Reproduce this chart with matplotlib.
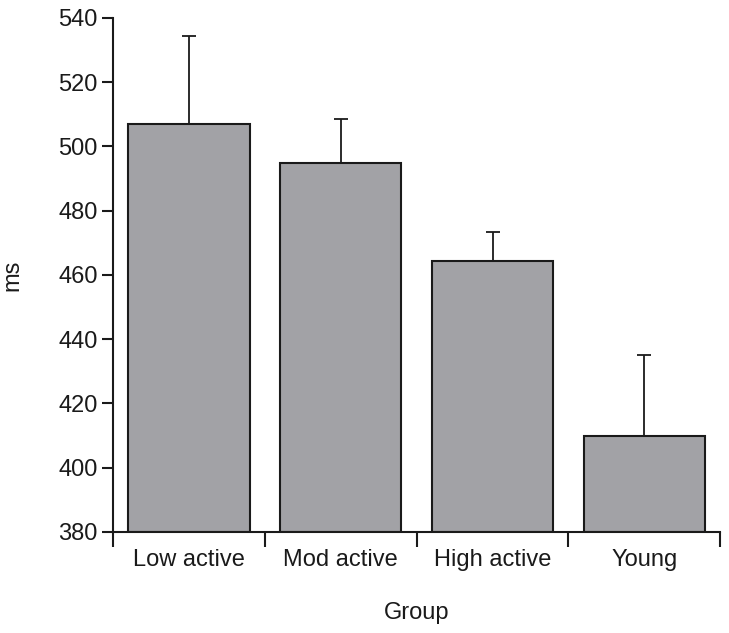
import numpy as np
import matplotlib
matplotlib.use("Agg")
import matplotlib.pyplot as plt

groups = ["Low active", "Mod active", "High active", "Young"]
means = [507, 495, 464.5, 410]
errors = [27.5, 13.5, 9, 25]

plt.rcParams['font.family'] = ['Liberation Sans', 'DejaVu Sans']

fig = plt.figure(figsize=(7.29, 6.33), dpi=100)
ax = fig.add_axes([0.155, 0.1596, 0.833, 0.812])

x = np.arange(len(groups))
ax.bar(x, np.array(means) - 380, bottom=380, width=0.8, color='#a2a2a6',
       edgecolor='#1a1a1a', linewidth=1.5, zorder=2)
ax.errorbar(x, means, yerr=[np.zeros(len(errors)), errors], fmt='none',
            ecolor='#1a1a1a', elinewidth=1.3, capsize=5, capthick=1.3, zorder=1)

ax.set_xlim(-0.5, 3.5)
ax.set_ylim(380, 540)
ax.set_yticks(np.arange(380, 541, 20))

# ticks sit between the groups, labels centred under bars
ax.set_xticks(np.arange(-0.5, 4, 1))
ax.set_xticklabels([])
ax.set_xticks(x, minor=True)
ax.set_xticklabels(groups, minor=True)
ax.tick_params(axis='x', which='minor', length=0, pad=12.5)
ax.tick_params(axis='x', which='major', length=11, width=1.5, color='#1a1a1a')
ax.tick_params(axis='y', length=8, width=1.5, color='#1a1a1a', pad=3)
ax.tick_params(which='both', labelsize=17, labelcolor='#1a1a1a')

for s in ['top', 'right']:
    ax.spines[s].set_visible(False)
for s in ['left', 'bottom']:
    ax.spines[s].set_linewidth(1.5)
    ax.spines[s].set_color('#1a1a1a')

ax.set_ylabel('ms', fontsize=17, color='#1a1a1a')
ax.set_xlabel('Group', fontsize=17, color='#1a1a1a', labelpad=22)
ax.yaxis.set_label_coords(-0.148, 0.5)

fig.savefig('out.png', dpi=100)
